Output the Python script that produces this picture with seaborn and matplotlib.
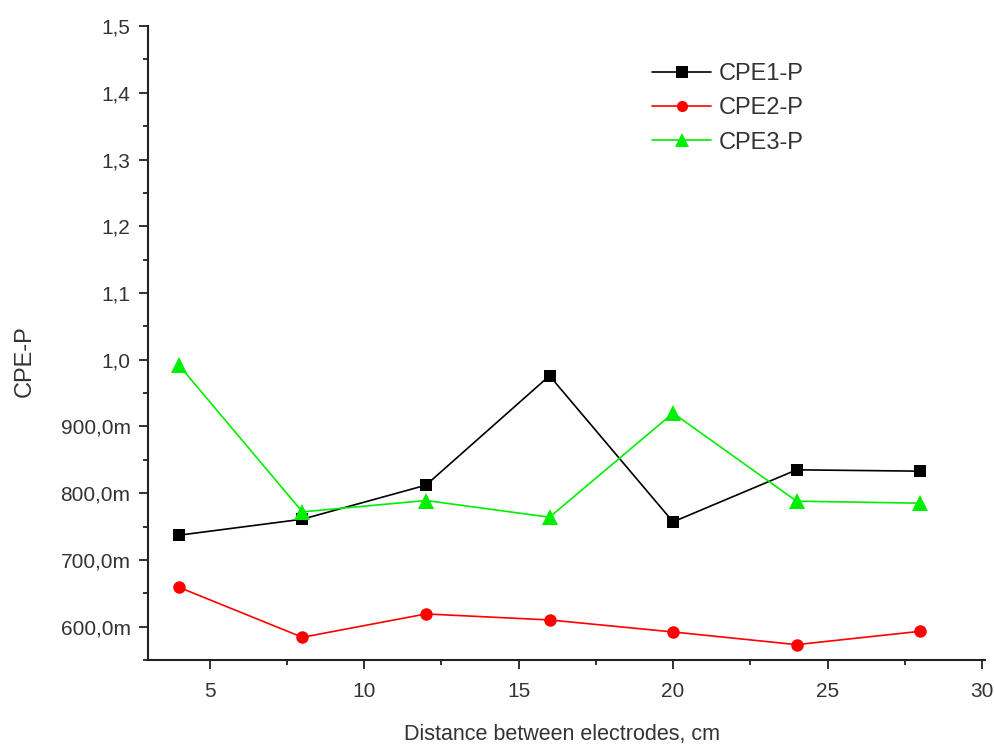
import matplotlib
matplotlib.use("Agg")
import matplotlib.pyplot as plt
from matplotlib.ticker import FixedLocator, MultipleLocator, FixedFormatter
from matplotlib.lines import Line2D
import seaborn as sns
import pandas as pd

# Electrode spacing (cm)
distance = [4, 8, 12, 16, 20, 24, 28]

# CPE exponent values for the three constant-phase elements
cpe1_p = [0.737, 0.761, 0.812, 0.976, 0.757, 0.835, 0.833]
cpe2_p = [0.659, 0.584, 0.619, 0.610, 0.592, 0.573, 0.593]
cpe3_p = [0.992, 0.772, 0.789, 0.764, 0.920, 0.788, 0.785]

series_names = ["CPE1-P", "CPE2-P", "CPE3-P"]

y_tick_values = [0.6, 0.7, 0.8, 0.9, 1.0, 1.1, 1.2, 1.3, 1.4, 1.5]
y_tick_labels = ["600,0m", "700,0m", "800,0m", "900,0m", "1,0", "1,1", "1,2", "1,3", "1,4", "1,5"]
x_tick_values = [5, 10, 15, 20, 25, 30]

frames = []
for name, vals in zip(series_names, [cpe1_p, cpe2_p, cpe3_p]):
    frames.append(pd.DataFrame({"distance": distance, "value": vals, "series": name}))
df = pd.concat(frames, ignore_index=True)

sns.set_style("ticks")
plt.rcParams["font.family"] = ["Liberation Sans", "DejaVu Sans"]

fig = plt.figure(figsize=(9.95, 7.46), dpi=100)
ax = fig.add_axes([0.1487, 0.1153, 0.8413, 0.8497])

palette = {"CPE1-P": "#000000", "CPE2-P": "#ff0000", "CPE3-P": "#00ee00"}
markers = {"CPE1-P": "s", "CPE2-P": "o", "CPE3-P": "^"}
sizes = {"CPE1-P": 9, "CPE2-P": 9, "CPE3-P": 11}

sns.lineplot(data=df, x="distance", y="value", hue="series", style="series",
             palette=palette, markers=markers, dashes=False, linewidth=1.2,
             markersize=9, markeredgewidth=0, ax=ax, legend=False)

for line, name in zip(ax.get_lines(), series_names):
    line.set_markersize(sizes[name])

ax.set_xlim(3, 30.1)
ax.set_ylim(0.55, 1.5)

ax.yaxis.set_major_locator(FixedLocator(y_tick_values))
ax.yaxis.set_major_formatter(FixedFormatter(y_tick_labels))
ax.yaxis.set_minor_locator(MultipleLocator(0.05))
ax.xaxis.set_major_locator(FixedLocator(x_tick_values))
ax.xaxis.set_minor_locator(MultipleLocator(2.5))

text_color = "#333333"
ax.tick_params(axis="both", which="major", direction="out", length=6.5, width=1.3,
               labelsize=15, labelcolor=text_color, color="#222222")
ax.tick_params(axis="y", which="major", pad=6)
ax.tick_params(axis="x", which="major", pad=9)
ax.tick_params(axis="both", which="minor", direction="out", length=3.5, width=1.3,
               color="#222222")

for side in ["top", "right"]:
    ax.spines[side].set_visible(False)
for side in ["left", "bottom"]:
    ax.spines[side].set_linewidth(1.5)
    ax.spines[side].set_color("#222222")

ax.set_xlabel("Distance between electrodes, cm", fontsize=15.5, color=text_color,
              va="center")
ax.xaxis.set_label_coords(0.495, -0.118)
ax.set_ylabel("CPE-P", fontsize=17, color=text_color, va="center")
ax.yaxis.set_label_coords(-0.147, 0.472)

handles = [Line2D([0], [0], color=palette[n], marker=markers[n], markersize=sizes[n] - 1,
                  markeredgewidth=0, linewidth=1.2) for n in series_names]
ax.legend(handles, series_names, loc="upper left", bbox_to_anchor=(0.577, 0.975),
          frameon=False, fontsize=17, handlelength=2.5, handletextpad=0.3,
          labelspacing=0.52, labelcolor=text_color)

fig.savefig("out.png", dpi=100)
